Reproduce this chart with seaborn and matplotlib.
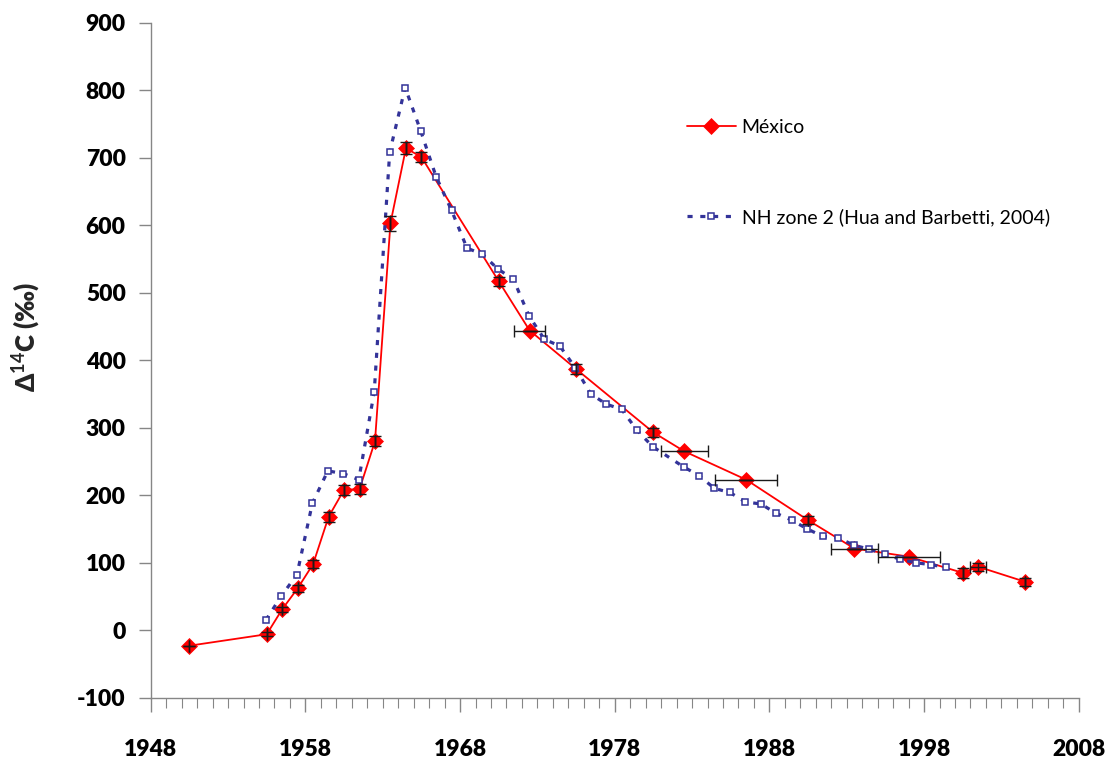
import matplotlib
matplotlib.use("Agg")
import matplotlib.pyplot as plt
import seaborn as sns
import numpy as np
import pandas as pd
from matplotlib.ticker import MultipleLocator

# ---- data ----
mx_years = [1950.5, 1955.5, 1956.5, 1957.5, 1958.5, 1959.5, 1960.5, 1961.5, 1962.5,
            1963.5, 1964.5, 1965.5, 1970.5, 1972.5, 1975.5, 1980.5, 1982.5, 1986.5,
            1990.5, 1993.5, 1997.0, 2000.5, 2001.5, 2004.5]
mx_values = [-23, -6, 31, 62, 98, 168, 208, 209, 280,
             603, 714, 701, 517, 444, 387, 293, 265, 223,
             163, 121, 109, 85, 94, 72]
mx_yerr = [0, 3, 4, 5, 6, 7, 7, 7, 7,
           11, 9, 8, 7, 0, 7, 7, 0, 0,
           6, 0, 0, 7, 6, 6]
mx_xerr = [0, 0, 0, 0, 0, 0, 0, 0, 0,
           0, 0, 0, 0, 1.0, 0, 0, 1.5, 2.0,
           0, 1.5, 2.0, 0, 0.5, 0]

nh_years = [1955.45, 1956.45, 1957.45, 1958.45, 1959.45, 1960.45, 1961.45, 1962.45,
            1963.45, 1964.45, 1965.45, 1966.45, 1967.45, 1968.45, 1969.45, 1970.45,
            1971.45, 1972.45, 1973.45, 1974.45, 1975.45, 1976.45, 1977.45, 1978.45,
            1979.45, 1980.45, 1982.45, 1983.45, 1984.45, 1985.45, 1986.45, 1987.45,
            1988.45, 1989.45, 1990.45, 1991.45, 1992.45, 1993.45, 1994.45, 1995.45,
            1996.45, 1997.45, 1998.45, 1999.45]
nh_values = [15, 51, 82, 188, 236, 232, 223, 353,
             708, 804, 740, 672, 622, 566, 557, 535,
             520, 466, 431, 421, 389, 350, 335, 327,
             296, 272, 242, 229, 210, 204, 190, 187,
             173, 163, 150, 139, 137, 126, 120, 113,
             105, 100, 97, 93]

labels = ["México", "NH zone 2 (Hua and Barbetti, 2004)"]
x_ticks = [1948, 1958, 1968, 1978, 1988, 1998, 2008]
y_ticks = [-100, 0, 100, 200, 300, 400, 500, 600, 700, 800, 900]

# ---- style ----
sns.set_style("white")
FAM = ["Lato", "DejaVu Sans"]
plt.rcParams["font.family"] = FAM
plt.rcParams["text.color"] = "black"
plt.rcParams["xtick.color"] = "black"
plt.rcParams["ytick.color"] = "black"
plt.rcParams["mathtext.fontset"] = "custom"
plt.rcParams["mathtext.rm"] = "Lato:bold"
plt.rcParams["mathtext.bf"] = "Lato:bold"
plt.rcParams["axes.unicode_minus"] = False

red = "#FF0000"
navy = "#333399"
grey = "#868686"

fig = plt.figure(figsize=(11.1, 7.6), dpi=100)
ax = fig.add_axes([0.1358, 0.0820, 0.9718 - 0.1358, 0.9701 - 0.0820])

mx_df = pd.DataFrame({"year": mx_years, "d14c": mx_values})
nh_df = pd.DataFrame({"year": nh_years, "d14c": nh_values})

sns.lineplot(data=mx_df, x="year", y="d14c", ax=ax, sort=False, estimator=None,
             color=red, linewidth=1.3, marker="D", markersize=7.8,
             markerfacecolor=red, markeredgecolor=red, markeredgewidth=0.5,
             label=labels[0], zorder=3)
sns.lineplot(data=nh_df, x="year", y="d14c", ax=ax, sort=False, estimator=None,
             color=navy, linewidth=2.3, marker="s", markersize=5.0,
             markerfacecolor="white", markeredgecolor=navy, markeredgewidth=1.1,
             label=labels[1], zorder=4)
ax.lines[-1].set_dashes((1.6, 2.4))

# error bars
ax.errorbar(mx_years, mx_values, yerr=mx_yerr, xerr=mx_xerr, fmt="none",
            ecolor="#1a1a1a", elinewidth=1.0, capsize=4, capthick=1.0, zorder=5)

ax.set_xlim(1948, 2008)
ax.set_ylim(-100, 900)
ax.set_xticks(x_ticks)
ax.xaxis.set_minor_locator(MultipleLocator(1))
ax.set_yticks(y_ticks)

for s in ["top", "right"]:
    ax.spines[s].set_visible(False)
for s in ["left", "bottom"]:
    ax.spines[s].set_color(grey)
    ax.spines[s].set_linewidth(1.0)

ax.tick_params(axis="x", which="major", bottom=True, direction="out", length=10,
               width=1.0, color=grey, labelcolor="black", pad=20, labelsize=16.5)
ax.tick_params(axis="x", which="minor", bottom=True, direction="out", length=7,
               width=0.8, color=grey)
ax.tick_params(axis="y", which="major", left=True, direction="out", length=9,
               width=1.0, color=grey, labelcolor="black", pad=9, labelsize=16.5)
for lab in ax.get_xticklabels() + ax.get_yticklabels():
    lab.set_fontweight("heavy")
    lab.set_family(FAM)

ax.set_xlabel("")
ax.set_ylabel(r"Δ$^{14}$C (‰)", fontsize=18.5, fontweight="heavy", family=FAM)
ax.yaxis.set_label_coords(-0.116, 0.534)

leg = ax.legend(loc="upper left", bbox_to_anchor=(0.578, 0.857), frameon=False,
                fontsize=14, handlelength=2.5, handletextpad=0.3,
                labelspacing=3.7, borderpad=0, borderaxespad=0, numpoints=1)
for t in leg.get_texts():
    t.set_family(FAM)
    t.set_color("black")
ax.grid(False)

fig.savefig("out.png", dpi=100)
